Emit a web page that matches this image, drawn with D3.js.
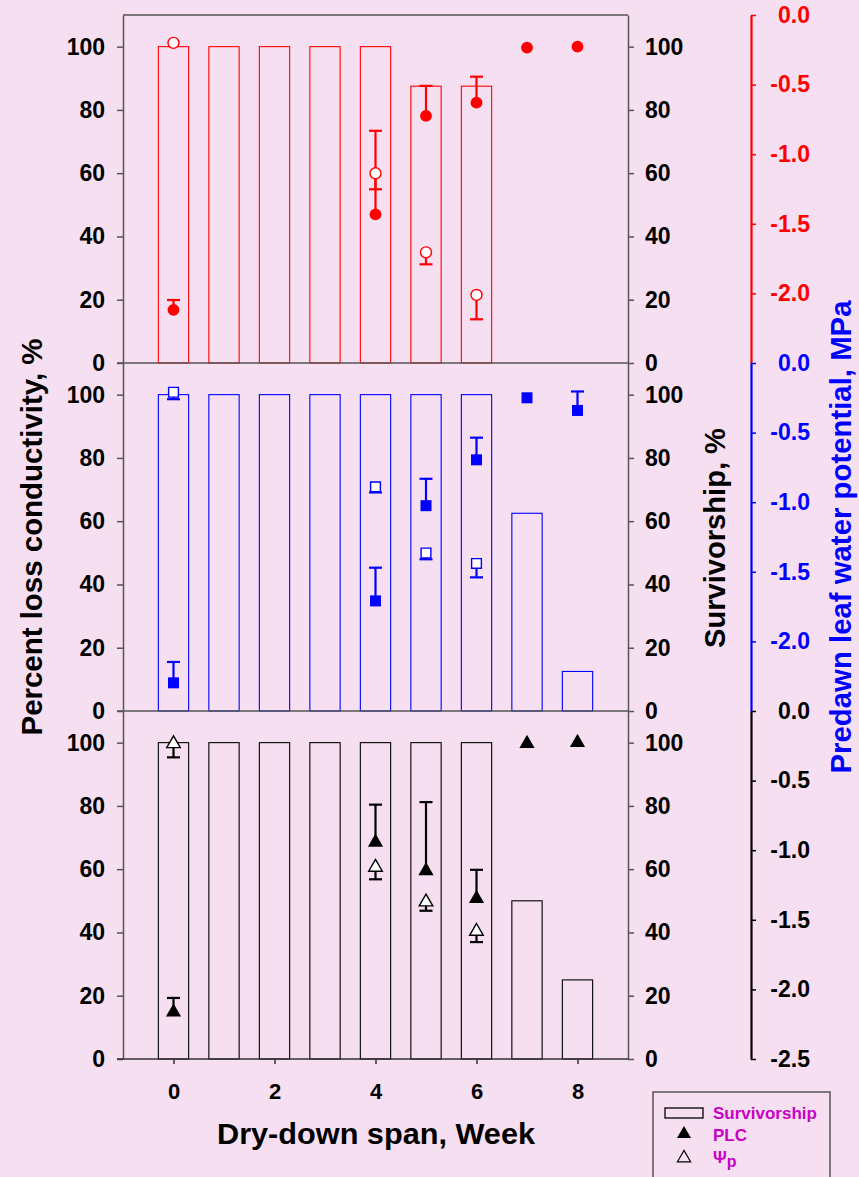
<!DOCTYPE html>
<html><head><meta charset="utf-8">
<script src="https://cdn.jsdelivr.net/npm/d3@7"></script>
<style>
html,body{margin:0;padding:0;background:#f6dff0;}
svg{display:block;}
text{font-family:"Liberation Sans",Arial,sans-serif;font-weight:bold;}
</style></head><body>
<svg id="chart" width="859" height="1177"></svg>
<script>
// ---------- data ----------
const weeks = [0,1,2,3,4,5,6,7,8];
const xTicks = [0,2,4,6,8];
const pctTicks = [0,20,40,60,80,100];
const mpaTicksShort = [0,-0.5,-1.0,-1.5,-2.0];
const mpaTicksLong = [0,-0.5,-1.0,-1.5,-2.0,-2.5];

// survivorship (%) per week, one array per panel
const survRed   = [100,100,100,100,100,87.5,87.5,null,null];
const survBlue  = [100,100,100,100,100,100,100,62.5,12.5];
const survBlack = [100,100,100,100,100,100,100,50,25];

// PLC (%) : weeks, mean, +error
const plcWeeks = [0,4,5,6,7,8];
const plcRed   = [16.8,47.0,78.1,82.3,99.7,100];
const plcRedErr   = [3.1,26.4,9.5,8.2,0,0];
const plcBlue  = [8.9,34.8,64.9,79.4,99.0,95.0];
const plcBlueErr  = [6.6,10.5,8.5,7.0,0,6.0];
const plcBlack = [14.8,68.5,59.5,50.7,99.7,100];
const plcBlackErr = [4.5,11.9,21.7,9.1,0,0];

// Predawn leaf water potential (MPa): weeks, mean, -error
const psiWeeks = [0,4,5,6];
const psiRed   = [-0.20,-1.137,-1.705,-2.011];
const psiRedErr   = [0,0.115,0.086,0.175];
const psiBlue  = [-0.21,-0.89,-1.365,-1.44];
const psiBlueErr  = [0.05,0.04,0.045,0.10];
const psiBlack = [-0.235,-1.123,-1.372,-1.583];
const psiBlackErr = [0.098,0.086,0.063,0.077];

const panels = [
  {color:"#ff0000", surv:survRed,   plc:plcRed,   plcErr:plcRedErr,   psi:psiRed,   psiErr:psiRedErr,   shape:"circle", mpaTicks:mpaTicksShort},
  {color:"#0000ff", surv:survBlue,  plc:plcBlue,  plcErr:plcBlueErr,  psi:psiBlue,  psiErr:psiBlueErr,  shape:"square", mpaTicks:mpaTicksShort},
  {color:"#000000", surv:survBlack, plc:plcBlack, plcErr:plcBlackErr, psi:psiBlack, psiErr:psiBlackErr, shape:"triangle", mpaTicks:mpaTicksLong}
];

// ---------- layout ----------
const W = 859, H = 1177;
const L = 123, R = 628, MPA_X = 751;
const panelTops = [15, 363, 711], panelH = 348;
const frame = "#555555";
const bg = "#f6dff0";
const magenta = "#c800c8";

const svg = d3.select("#chart");
svg.append("rect").attr("width", W).attr("height", H).attr("fill", bg);

const x = d3.scaleLinear().domain([-1, 9]).range([L, R]);
const barW = x(0.6) - x(0);

const symType = {circle: d3.symbolCircle, square: d3.symbolSquare, triangle: d3.symbolTriangle};
const filledSize = {circle: 110, square: 121, triangle: 100};
const openSize = {circle: 95, square: 95, triangle: 80};
const capHalf = 6.5;

function styleAxis(sel, color, width) {
  sel.selectAll(".domain").attr("stroke", color).attr("stroke-width", width);
  sel.selectAll(".tick line").attr("stroke", color).attr("stroke-width", width);
  sel.selectAll(".tick text").attr("fill", "#000").style("font-size", "23px");
}

panels.forEach((p, i) => {
  const top = panelTops[i], bot = top + panelH;
  const yP = d3.scaleLinear().domain([0, 110]).range([bot, top]);
  const yM = d3.scaleLinear().domain([0, -2.5]).range([top, bot]);
  const g = svg.append("g");

  // bars
  const barData = weeks.map((w, j) => ({w, v: p.surv[j]})).filter(d => d.v != null);
  g.selectAll("rect.bar").data(barData).join("rect").attr("class", "bar")
    .attr("x", d => x(d.w) - barW / 2).attr("width", barW)
    .attr("y", d => yP(d.v)).attr("height", d => yP(0) - yP(d.v))
    .attr("fill", "none").attr("stroke", p.color).attr("stroke-width", 1.1);

  // left axis
  const la = g.append("g").attr("transform", `translate(${L},0)`)
    .call(d3.axisLeft(yP).tickValues(pctTicks).tickSize(6).tickSizeOuter(0).tickPadding(12));
  styleAxis(la, frame, 1.5);
  // right (survivorship) axis
  const ra = g.append("g").attr("transform", `translate(${R},0)`)
    .call(d3.axisRight(yP).tickValues(pctTicks).tickSize(6).tickSizeOuter(0).tickPadding(11));
  styleAxis(ra, frame, 1.5);

  // bottom frame line (and top for first panel)
  g.append("line").attr("x1", L - 6).attr("x2", R).attr("y1", bot).attr("y2", bot)
    .attr("stroke", i === 2 ? "#333" : frame).attr("stroke-width", 1.5);
  if (i === 0) g.append("line").attr("x1", L).attr("x2", R).attr("y1", top).attr("y2", top)
    .attr("stroke", frame).attr("stroke-width", 1.5);

  // MPa axis
  const ma = g.append("g").attr("transform", `translate(${MPA_X},0)`)
    .call(d3.axisRight(yM).tickValues(p.mpaTicks).tickSize(5).tickSizeOuter(0)
      .tickFormat(d => d.toFixed(1)));
  ma.selectAll(".domain").attr("stroke", p.color).attr("stroke-width", 2.2);
  ma.selectAll(".tick line").attr("stroke", p.color).attr("stroke-width", 1.5);
  ma.selectAll(".tick text").attr("fill", p.color).attr("x", 59).attr("text-anchor", "end").style("font-size", "23px");

  const plcData = plcWeeks.map((w, j) => ({w, v: p.plc[j], e: p.plcErr[j]}));
  const psiData = psiWeeks.map((w, j) => ({w, v: p.psi[j], e: p.psiErr[j]}));

  const eb = g.append("g").attr("stroke", p.color).attr("stroke-width", 2.2);
  plcData.filter(d => d.e > 0).forEach(d => {
    eb.append("line").attr("x1", x(d.w)).attr("x2", x(d.w)).attr("y1", yP(d.v)).attr("y2", yP(d.v + d.e));
    eb.append("line").attr("x1", x(d.w) - capHalf).attr("x2", x(d.w) + capHalf).attr("y1", yP(d.v + d.e)).attr("y2", yP(d.v + d.e));
  });
  psiData.filter(d => d.e > 0).forEach(d => {
    eb.append("line").attr("x1", x(d.w)).attr("x2", x(d.w)).attr("y1", yM(d.v)).attr("y2", yM(d.v - d.e));
    eb.append("line").attr("x1", x(d.w) - capHalf).attr("x2", x(d.w) + capHalf).attr("y1", yM(d.v - d.e)).attr("y2", yM(d.v - d.e));
  });

  g.selectAll("path.psi").data(psiData).join("path").attr("class", "psi")
    .attr("transform", d => `translate(${x(d.w)},${yM(d.v)})`)
    .attr("d", d3.symbol().type(symType[p.shape]).size(openSize[p.shape]))
    .attr("fill", "#ffffff").attr("stroke", p.color).attr("stroke-width", 1.4);
  g.selectAll("path.plc").data(plcData).join("path").attr("class", "plc")
    .attr("transform", d => `translate(${x(d.w)},${yP(d.v)})`)
    .attr("d", d3.symbol().type(symType[p.shape]).size(filledSize[p.shape]))
    .attr("fill", p.color).attr("stroke", "none");

  // x axis on bottom panel
  if (i === 2) {
    const xa = g.append("g").attr("transform", `translate(0,${bot})`)
      .call(d3.axisBottom(x).tickValues(xTicks).tickSize(5).tickSizeOuter(0).tickPadding(19));
    xa.select(".domain").remove();
    xa.selectAll(".tick line").attr("stroke", "#333").attr("stroke-width", 1.5);
    xa.selectAll(".tick text").attr("fill", "#000").style("font-size", "22px");
  }
});

// ---------- titles ----------
svg.append("text").attr("transform", "translate(42,537) rotate(-90)")
  .attr("text-anchor", "middle").style("font-size", "29px").attr("fill", "#000")
  .attr("textLength", 397).attr("lengthAdjust", "spacingAndGlyphs")
  .text("Percent loss conductivity, %");
svg.append("text").attr("x", 376).attr("y", 1144)
  .attr("text-anchor", "middle").style("font-size", "29px").attr("fill", "#000")
  .attr("textLength", 318).attr("lengthAdjust", "spacingAndGlyphs")
  .text("Dry-down span, Week");
svg.append("text").attr("transform", "translate(725,538) rotate(-90)")
  .attr("text-anchor", "middle").style("font-size", "29px").attr("fill", "#000")
  .attr("textLength", 220).attr("lengthAdjust", "spacingAndGlyphs")
  .text("Survivorship, %");
svg.append("text").attr("transform", "translate(851,537) rotate(-90)")
  .attr("text-anchor", "middle").style("font-size", "29px").attr("fill", "#0000ff")
  .attr("textLength", 473).attr("lengthAdjust", "spacingAndGlyphs")
  .text("Predawn leaf water potential, MPa");

// ---------- legend ----------
const lg = svg.append("g");
lg.append("rect").attr("x", 653).attr("y", 1092).attr("width", 177).attr("height", 120)
  .attr("fill", "none").attr("stroke", frame).attr("stroke-width", 1.5);
lg.append("rect").attr("x", 665).attr("y", 1108).attr("width", 38).attr("height", 10)
  .attr("fill", "none").attr("stroke", "#000").attr("stroke-width", 1.3);
lg.append("path").attr("transform", "translate(684,1134)")
  .attr("d", d3.symbol().type(d3.symbolTriangle).size(85)).attr("fill", "#000");
lg.append("path").attr("transform", "translate(684,1158)")
  .attr("d", d3.symbol().type(d3.symbolTriangle).size(75)).attr("fill", "none").attr("stroke", "#000").attr("stroke-width", 1.2);
lg.append("text").attr("x", 713).attr("y", 1119).style("font-size", "17px").attr("fill", magenta).text("Survivorship");
lg.append("text").attr("x", 713).attr("y", 1141).style("font-size", "17px").attr("fill", magenta).text("PLC");
const psiT = lg.append("text").attr("x", 713).attr("y", 1163).style("font-size", "17px").attr("fill", magenta);
psiT.append("tspan").text("Ψ");
psiT.append("tspan").attr("dy", 4).style("font-size", "16px").text("p");
</script>
</body></html>
